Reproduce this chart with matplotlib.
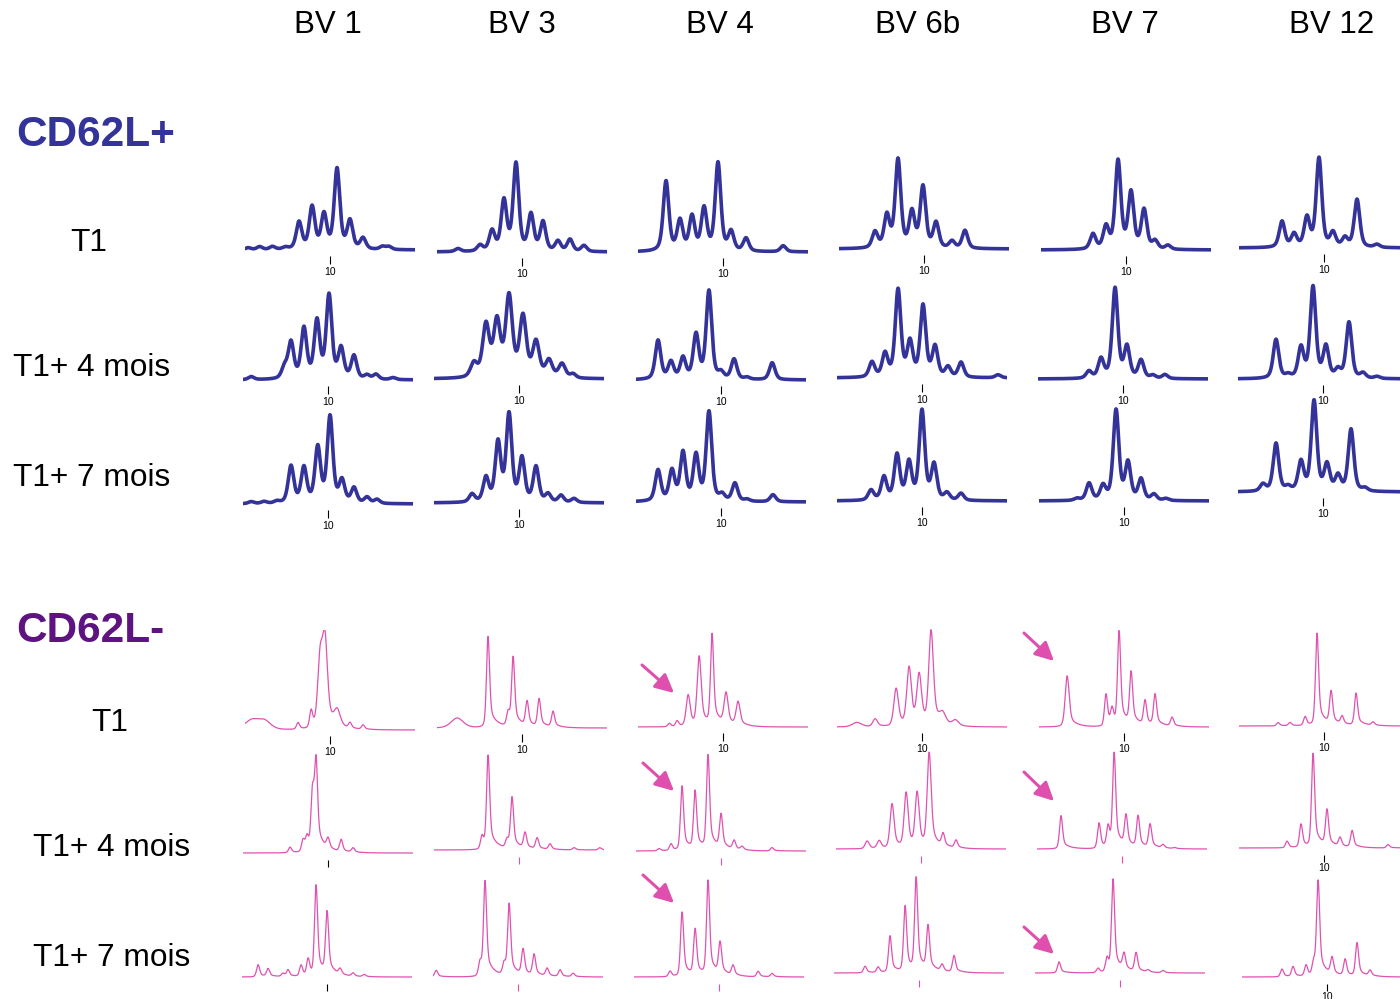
import numpy as np
import matplotlib
import matplotlib.pyplot as plt

matplotlib.use('Agg')
plt.rcParams['font.family'] = ['Liberation Sans', 'DejaVu Sans']

# V-beta families (columns) and time points (rows)
families = ['BV 1', 'BV 3', 'BV 4', 'BV 6b', 'BV 7', 'BV 12']
timepoints = ['T1', 'T1+ 4 mois', 'T1+ 7 mois']

# spectratype peaks: (CDR3 length, intensity[, width factor])
pos_T1 = {
    'BV 1': [(3.6, 2), (4.5, 3), (5.5, 3), (6.5, 2), (7.58, 27), (8.6, 42), (9.53, 34), (10.55, 80),
             (11.56, 28), (12.58, 11), (14.1, 3), (14.6, 3)],
    'BV 3': [(5.0, 3), (6.72, 6), (7.66, 20), (8.59, 50), (9.53, 87), (10.7, 36), (11.64, 29),
             (12.81, 10), (13.75, 12), (14.84, 6)],
    'BV 4': [(5.55, 70), (6.64, 30), (7.58, 34), (8.52, 42), (9.61, 88), (10.63, 19), (11.8, 13), (14.7, 6)],
    'BV 6b': [(6.17, 16), (7.1, 32), (7.97, 88), (9.06, 35), (9.92, 61), (10.94, 25), (12.19, 7), (13.2, 18)],
    'BV 7': [(7.42, 15), (8.44, 22), (9.38, 88), (10.39, 56), (11.41, 39), (12.27, 8), (13.28, 4)],
    'BV 12': [(6.72, 26), (7.66, 13), (8.67, 29), (9.61, 89), (10.7, 14), (11.64, 9), (12.58, 48), (14.14, 3)],
}
pos_T4 = {
    'BV 1': [(4.0, 3), (6.6, 11), (7.11, 36), (8.12, 50), (9.14, 57), (10.08, 83), (11.02, 30),
             (12.03, 23), (13.05, 4), (13.75, 5), (15.08, 2)],
    'BV 3': [(6.48, 14, 1.2), (7.42, 52, 1.2), (8.28, 55, 1.2), (9.22, 80, 1.2), (10.31, 60, 1.2),
             (11.33, 35, 1.2), (12.34, 17, 1.2), (13.36, 14, 1.2), (14.22, 4)],
    'BV 4': [(5.08, 39), (6.09, 17), (7.03, 21), (8.05, 44), (9.06, 88), (10.0, 6), (11.02, 20),
             (12.03, 2), (14.0, 17)],
    'BV 6b': [(6.09, 15), (7.11, 23), (8.13, 87), (9.06, 34), (10.08, 71), (11.02, 30), (12.03, 10),
              (13.05, 15), (15.94, 3)],
    'BV 7': [(7.34, 7), (8.28, 19), (9.38, 90), (10.31, 31), (11.41, 18), (12.34, 3), (13.28, 4)],
    'BV 12': [(6.33, 39), (7.27, 3), (8.28, 30), (9.22, 91), (10.23, 31), (11.17, 8), (12.03, 56),
              (13.13, 5), (14.22, 2)],
}
pos_T7 = {
    'BV 1': [(4.0, 2), (5.0, 2), (6.0, 2), (7.11, 37), (8.12, 35), (9.2, 55), (10.16, 86), (11.09, 22),
             (12.03, 15), (13.05, 6), (13.83, 4)],
    'BV 3': [(6.33, 8), (7.42, 24), (8.36, 59), (9.22, 87), (10.23, 43), (11.33, 35), (12.27, 8),
             (13.28, 7), (14.3, 4)],
    'BV 4': [(5.08, 31), (6.17, 30), (7.03, 48), (8.05, 45), (9.06, 89), (10.08, 6), (11.09, 18),
             (12.03, 2), (14.06, 7)],
    'BV 6b': [(6.02, 10), (7.03, 23), (8.05, 45), (8.98, 37), (10.0, 89), (10.94, 35), (11.95, 7), (13.05, 7)],
    'BV 7': [(6.33, 2), (7.27, 17), (8.36, 14), (9.38, 90), (10.31, 37), (11.33, 21), (12.34, 6), (13.28, 2)],
    'BV 12': [(5.31, 7), (6.33, 48), (7.27, 4), (8.28, 29), (9.3, 90), (10.31, 26), (11.17, 15),
              (12.19, 62), (13.28, 3)],
}
neg_T1 = {
    'BV 1': [(3.9, 9, 5), (4.9, 7, 4), (7.5, 6), (8.52, 16), (9.22, 62, 1.6), (9.6, 74, 1.6),
             (10.55, 14, 2), (11.56, 5), (12.58, 4)],
    'BV 3': [(4.92, 9, 4), (7.34, 82), (8.91, 13), (9.3, 62), (10.39, 22), (11.33, 25), (12.42, 14)],
    'BV 4': [(5.8, 3), (6.41, 5), (7.27, 28, 1.3), (8.13, 62, 1.3), (9.14, 81), (10.23, 28, 1.3),
             (11.17, 21, 1.3)],
    'BV 6b': [(4.9, 4, 3), (6.33, 7, 1.5), (7.97, 34, 1.5), (8.98, 52, 1.5), (9.77, 44, 1.5),
              (10.7, 84, 1.5), (11.6, 9, 2), (12.6, 5, 2)],
    'BV 7': [(5.55, 46, 1.3), (8.59, 29), (9.06, 14), (9.61, 84), (10.55, 46), (11.64, 22), (12.42, 28),
             (13.75, 8)],
    'BV 12': [(6.41, 3), (7.34, 3), (8.52, 8), (9.45, 83), (10.55, 29), (11.41, 7), (12.5, 29), (13.83, 3)],
}
neg_T4 = {
    'BV 1': [(7.03, 5), (8.05, 11), (8.36, 13), (8.78, 52), (9.06, 76), (10.0, 9), (11.02, 11), (11.95, 4)],
    'BV 3': [(7.11, 12), (7.58, 84), (9.06, 8), (9.45, 46), (10.47, 14), (11.41, 10), (12.42, 5),
             (14.3, 2), (16.3, 2)],
    'BV 4': [(5.16, 2), (6.09, 6), (6.95, 58), (7.97, 52), (8.98, 84), (10.0, 30), (11.02, 8),
             (11.64, 3), (13.98, 3)],
    'BV 6b': [(5.78, 7, 1.3), (6.72, 7, 1.3), (7.73, 40, 1.3), (8.83, 49, 1.3), (9.69, 48, 1.3),
              (10.63, 84, 1.3), (11.72, 11), (12.73, 7)],
    'BV 7': [(5.23, 30), (8.2, 23), (8.91, 19), (9.38, 84), (10.31, 27), (11.25, 28), (12.19, 21),
             (13.2, 3), (14.1, 1)],
    'BV 12': [(7.11, 6), (8.2, 21), (9.14, 84), (10.23, 32), (11.25, 8), (12.19, 15), (15.0, 3)],
}
neg_T7 = {
    'BV 1': [(4.61, 11), (5.39, 7), (6.56, 3), (6.95, 6), (7.97, 10), (8.52, 15), (9.14, 81), (10.0, 55),
             (11.02, 5), (12.03, 3), (12.9, 2)],
    'BV 3': [(3.6, 6), (7.03, 13), (7.42, 85), (8.91, 11), (9.3, 64), (10.39, 23), (11.25, 19),
             (12.27, 7), (13.28, 6), (14.3, 3)],
    'BV 4': [(6.17, 5), (7.11, 58), (8.13, 41), (9.14, 85), (10.08, 28), (11.09, 9), (13.05, 5), (14.14, 3)],
    'BV 6b': [(5.78, 6), (6.8, 5), (7.73, 33), (8.91, 59), (9.77, 83), (10.7, 39), (11.8, 6), (12.73, 15)],
    'BV 7': [(5.23, 10), (8.28, 4), (8.98, 13), (9.45, 83), (10.31, 14), (11.25, 17), (12.19, 2), (13.36, 2)],
    'BV 12': [(6.48, 7), (7.34, 9), (8.36, 10), (8.95, 12), (9.3, 85), (10.39, 15), (11.41, 15),
              (12.34, 30), (13.36, 5)],
}

W, H = 1400, 999
blue = '#333399'
pink = '#e052b0'


def blue_peak(x, p, h, wm=1.0):
    d = (x - p) / (0.26 * wm)
    return h * (0.5 * np.exp(-np.log(2) * d ** 2) + 0.5 / (1 + d ** 2))


def pink_peak(x, p, h, wm=1.0):
    d = (x - p) / (0.14 * wm)
    core = 0.7 * np.exp(-np.log(2) * d ** 2) + 0.3 / (1 + d ** 2)
    tail = 0.22 * np.exp(-np.clip(x - p, 0, None) / 0.6) / (1 + np.exp(-2 * d))
    return h * (core + tail)


# panel placement in pixels: x of the "10" tick and y of the baseline
tick_px = [[330, 522, 723, 924, 1126, 1324],
           [328, 519, 721, 922, 1123, 1323],
           [328, 519, 721, 922, 1124, 1323],
           [330, 522, 723, 922, 1124, 1324],
           [328, 519, 721, 921, 1122, 1324],
           [327, 518, 719, 919, 1120, 1327]]
base_px = [[250, 252, 252, 249, 250, 248],
           [380, 379, 380, 378, 379, 379],
           [504, 503, 502, 501, 501, 492],
           [730, 728, 727, 727, 727, 726],
           [853, 850, 851, 849, 849, 848],
           [977, 977, 977, 973, 973, 977]]
unit = 12.8  # pixels per CDR3 length step

fig = plt.figure(figsize=(W / 100, H / 100), dpi=100)

rows = [pos_T1, pos_T4, pos_T7, neg_T1, neg_T4, neg_T7]
for r, rowdata in enumerate(rows):
    negative = r >= 3
    for c, fam in enumerate(families):
        tx, by = tick_px[r][c], base_px[r][c]
        half = 85 / unit
        ax = fig.add_axes([(tx - 85) / W, 1 - (by + 14) / H, 170 / W, 114 / H])
        x = np.linspace(10 - half, 10 + half, 900)
        y = np.zeros_like(x)
        for pk in rowdata[fam]:
            wm = pk[2] if len(pk) > 2 else 1.0
            y += (pink_peak if negative else blue_peak)(x, pk[0], pk[1], wm)
        ax.plot(x, y, color=pink if negative else blue, lw=0.9 if negative else 2.6,
                solid_capstyle='round', solid_joinstyle='round')
        ax.set_xlim(10 - half, 10 + half)
        ax.set_ylim(-14, 100)
        for s in ax.spines.values():
            s.set_visible(False)
        ax.set_yticks([])
        ax.set_xticks([10])
        show_label = r < 4 or c == 5
        tick_col = 'black' if (r < 4 or c in (0, 5)) else pink
        ax.set_xticklabels(['10' if show_label else ''])
        ax.tick_params(axis='x', direction='in', length=6 if r < 4 else 5, width=0.8,
                       color=tick_col, labelsize=7.5, pad=2 if r < 4 else 0.5)
        ax.patch.set_visible(False)

# overlay for titles, row labels and arrows
ov = fig.add_axes([0, 0, 1, 1])
ov.set_xlim(0, W)
ov.set_ylim(H, 0)
ov.axis('off')
ov.patch.set_visible(False)

col_x = [328, 522, 720, 918, 1125, 1332]
for fam, cx in zip(families, col_x):
    ov.text(cx, 25, fam, ha='center', va='center', fontsize=22.5)

ov.text(16, 135, 'CD62L+', ha='left', va='center', fontsize=30.5, fontweight='bold', color='#333399')
ov.text(16, 631, 'CD62L-', ha='left', va='center', fontsize=30.5, fontweight='bold', color='#5e1480')

label_pos = [(89, 243), (92, 368), (92, 478), (110, 723), (112, 848), (112, 958)]
for i, (lx, ly) in enumerate(label_pos):
    ov.text(lx, ly, timepoints[i % 3], ha='center', va='center', fontsize=22.8)

arrows = [((642, 665), (674, 693)), ((643, 763), (674, 791)), ((643, 875), (674, 903)),
          ((1024, 633), (1054, 661)), ((1024, 772), (1054, 801)), ((1024, 927), (1054, 954))]
for (x0, y0), (x1, y1) in arrows:
    ov.annotate('', xy=(x1, y1), xytext=(x0, y0),
                arrowprops=dict(arrowstyle='-|>', color='#de4fae', lw=2.2, mutation_scale=28,
                                shrinkA=0, shrinkB=0))

fig.savefig('out.png', dpi=100)
